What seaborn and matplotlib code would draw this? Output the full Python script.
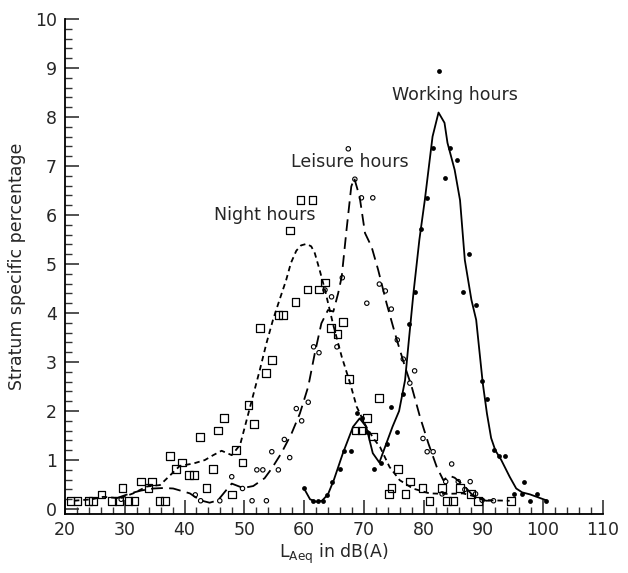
import matplotlib
matplotlib.use("Agg")
import matplotlib.pyplot as plt
import seaborn as sns
import numpy as np

# ---- data ----
# Night hours (open squares)
night_x = [20.9, 22.1, 23.9, 24.7, 26.1, 27.9, 29.0, 29.6, 30.6, 31.6, 32.7, 34.0, 34.6,
           35.8, 36.7, 37.6, 38.6, 39.6, 40.7, 41.6, 42.6, 43.7, 44.8, 45.6, 46.6, 47.9,
           48.6, 49.7, 50.7, 51.6, 52.6, 53.6, 54.6, 55.7, 56.5, 57.6, 58.6, 59.4, 60.6,
           61.4, 62.5, 63.5, 64.5, 65.6, 66.5, 67.5, 68.6, 69.6, 70.5, 71.5, 72.5, 74.2,
           74.6, 75.7, 77.0, 77.7, 79.8, 81.0, 83.1, 83.9, 84.9, 86.1, 87.9, 89.1, 94.6]
night_y = [0.17, 0.17, 0.17, 0.17, 0.3, 0.17, 0.17, 0.43, 0.17, 0.17, 0.56, 0.43, 0.56,
           0.17, 0.17, 1.08, 0.82, 0.95, 0.69, 0.69, 1.47, 0.43, 0.82, 1.6, 1.86, 0.3,
           1.2, 0.95, 2.12, 1.73, 3.69, 2.78, 3.04, 3.96, 3.96, 5.68, 4.22, 6.31, 4.48,
           6.31, 4.48, 4.62, 3.7, 3.57, 3.82, 2.65, 1.6, 1.6, 1.86, 1.48, 2.26, 0.31,
           0.43, 0.82, 0.31, 0.56, 0.43, 0.17, 0.43, 0.17, 0.17, 0.43, 0.31, 0.17, 0.17]
night_line_x = [21.5, 22.5, 24.5, 26.4, 29.2, 31.4, 33.7, 35.9, 37.6, 39.2, 41.5, 43.4,
                44.8, 46.2, 47.9, 49.3, 50.4, 51.5, 52.6, 53.7, 54.8, 55.9, 57.0, 57.8,
                58.7, 59.5, 60.4, 61.2, 61.8, 62.6, 63.5, 64.9, 66.3, 67.7, 68.8, 70.4,
                71.8, 72.7, 74.3, 76.0, 78.2, 81.0, 83.8, 86.6, 88.8, 90.5, 94.4]
night_line_y = [0.17, 0.18, 0.2, 0.25, 0.22, 0.32, 0.46, 0.49, 0.69, 0.88, 0.93, 1.0,
                1.1, 1.19, 1.1, 1.31, 1.82, 2.33, 2.84, 3.38, 3.86, 4.27, 4.67, 5.02,
                5.27, 5.38, 5.41, 5.36, 5.22, 4.88, 4.47, 3.75, 3.11, 2.57, 2.09, 1.68,
                1.41, 1.27, 0.86, 0.59, 0.42, 0.32, 0.31, 0.32, 0.25, 0.18, 0.17]

# Leisure hours (open circles)
leis_x = [29.4, 41.8, 42.7, 45.9, 47.9, 49.7, 51.3, 52.1, 53.1, 53.7, 54.6, 55.7, 56.7,
          57.6, 58.7, 59.6, 60.7, 61.6, 62.5, 63.5, 64.6, 65.5, 66.4, 67.4, 68.5, 69.6,
          70.5, 71.5, 72.6, 73.6, 74.6, 75.6, 76.6, 77.7, 78.5, 79.9, 80.6, 81.6, 83.1,
          83.7, 84.7, 85.8, 86.9, 87.8, 88.7, 89.8, 91.7]
leis_y = [0.2, 0.29, 0.17, 0.17, 0.66, 0.42, 0.17, 0.8, 0.8, 0.17, 1.17, 0.8, 1.42,
          1.05, 2.05, 1.8, 2.18, 3.31, 3.19, 4.47, 4.33, 3.31, 4.72, 7.35, 6.73, 6.35,
          4.2, 6.35, 4.59, 4.45, 4.08, 3.45, 3.06, 2.57, 2.82, 1.44, 1.17, 1.17, 0.31,
          0.56, 0.92, 0.56, 0.4, 0.56, 0.31, 0.18, 0.17]
leis_line_x = [28.6, 30.9, 32.8, 34.8, 36.5, 38.1, 40.9, 42.6, 44.2, 45.6, 46.8, 47.9,
               49.8, 51.5, 53.4, 54.6, 56.2, 57.9, 59.3, 60.7, 61.8, 62.9, 64.0, 64.9,
               65.7, 66.3, 67.1, 67.9, 68.4, 69.3, 70.2, 71.3, 72.4, 73.8, 74.9, 75.7,
               76.9, 78.0, 79.4, 80.8, 82.2, 83.3, 84.3, 85.2, 86.9, 88.0, 89.1, 90.5, 91.9]
leis_line_y = [0.22, 0.32, 0.38, 0.42, 0.43, 0.42, 0.32, 0.18, 0.13, 0.18, 0.36, 0.52,
               0.43, 0.47, 0.63, 0.83, 1.14, 1.54, 1.95, 2.5, 3.18, 3.79, 4.06, 4.03,
               4.4, 4.74, 5.69, 6.58, 6.75, 6.37, 5.63, 5.35, 4.88, 4.2, 3.72, 3.38,
               2.9, 2.5, 1.88, 1.34, 0.86, 0.59, 0.68, 0.64, 0.46, 0.31, 0.22, 0.17, 0.18]

# Working hours (filled dots)
work_x = [60.0, 61.5, 62.4, 63.2, 63.8, 64.7, 66.0, 66.7, 67.8, 68.8, 69.7, 70.6, 71.7,
          72.8, 73.8, 74.6, 75.6, 76.6, 77.6, 78.5, 79.5, 80.5, 81.5, 82.5, 83.5, 84.5,
          85.6, 86.6, 87.6, 88.7, 89.7, 90.6, 91.8, 92.7, 93.7, 95.1, 96.4, 96.8, 97.8,
          98.9, 100.5]
work_y = [0.42, 0.17, 0.17, 0.17, 0.29, 0.56, 0.81, 1.19, 1.19, 1.97, 1.85, 1.58, 0.81,
          0.93, 1.33, 2.09, 1.58, 2.35, 3.78, 4.42, 5.71, 6.35, 7.37, 8.94, 6.75, 7.37,
          7.12, 4.42, 5.2, 4.16, 2.61, 2.24, 1.2, 1.08, 1.08, 0.31, 0.31, 0.56, 0.17,
          0.31, 0.17]
work_line_x = [60.0, 61.0, 62.0, 63.0, 64.0, 65.0, 66.5, 68.2, 69.3, 70.4, 71.5, 72.6,
               73.8, 74.8, 75.9, 76.9, 77.5, 78.3, 79.3, 80.2, 81.5, 82.5, 83.5, 84.0,
               85.2, 86.1, 86.9, 88.0, 88.8, 89.9, 90.6, 91.3, 92.0, 93.0, 94.4, 95.5,
               96.5, 97.8, 100.5]
work_line_y = [0.42, 0.2, 0.15, 0.17, 0.3, 0.6, 1.14, 1.68, 1.85, 1.68, 1.14, 0.95,
               1.35, 1.68, 2.0, 2.63, 3.4, 4.4, 5.5, 6.3, 7.6, 8.09, 7.88, 7.47,
               6.92, 6.3, 5.08, 4.27, 3.86, 2.57, 1.95, 1.45, 1.2, 1.0, 0.66, 0.42,
               0.34, 0.3, 0.18]

labels = ["Night hours", "Leisure hours", "Working hours"]
label_pos = [(53.4, 6.0), (67.7, 7.08), (85.2, 8.45)]

sns.set_style("ticks")
plt.rcParams['font.family'] = ['DejaVu Sans']

fig = plt.figure(figsize=(6.28, 5.73), dpi=100)
ax = fig.add_axes([0.1035, 0.103, 0.8565, 0.864])

# lines
sns.lineplot(x=night_line_x, y=night_line_y, ax=ax, color='black', lw=1.3,
             linestyle=(0, (3, 2.2)), sort=False, estimator=None)
sns.lineplot(x=leis_line_x, y=leis_line_y, ax=ax, color='black', lw=1.3,
             linestyle=(0, (6.5, 3.5)), sort=False, estimator=None)
sns.lineplot(x=work_line_x, y=work_line_y, ax=ax, color='black', lw=1.3,
             sort=False, estimator=None)

# points
sns.scatterplot(x=night_x, y=night_y, ax=ax, marker='s', s=30,
                facecolors='none', edgecolors='black', linewidth=0.9)
sns.scatterplot(x=leis_x, y=leis_y, ax=ax, marker='o', s=10,
                facecolors='none', edgecolors='black', linewidth=0.8)
sns.scatterplot(x=work_x, y=work_y, ax=ax, marker='o', s=12,
                color='black', edgecolor='black', linewidth=0)

for txt, (tx, ty) in zip(labels, label_pos):
    ax.text(tx, ty, txt, ha='center', va='center', fontsize=12.5)

ax.set_xlim(20, 110)
ax.set_ylim(-0.1, 10)
ax.set_xticks(np.arange(20, 111, 10))
ax.set_xticks(np.arange(20, 111, 2), minor=True)
ax.set_yticks(np.arange(0, 11, 1))
ax.set_yticks(np.arange(0, 10.01, 0.2), minor=True)
ax.tick_params(which='major', direction='in', length=10, width=1.2, labelsize=12.5,
               color='#333333')
ax.tick_params(which='minor', direction='in', length=5, width=1.0, color='#333333')
ax.tick_params(axis='x', pad=5)
ax.tick_params(axis='y', pad=6)

for side in ['top', 'right']:
    ax.spines[side].set_visible(False)
for side in ['left', 'bottom']:
    ax.spines[side].set_linewidth(1.3)
    ax.spines[side].set_color('black')

ax.set_xlabel(r'L$_{\mathrm{Aeq}}$ in dB(A)', fontsize=12.5, labelpad=2)
ax.set_ylabel('Stratum specific percentage', fontsize=12.5, labelpad=6)

fig.savefig('out.png', dpi=100)
